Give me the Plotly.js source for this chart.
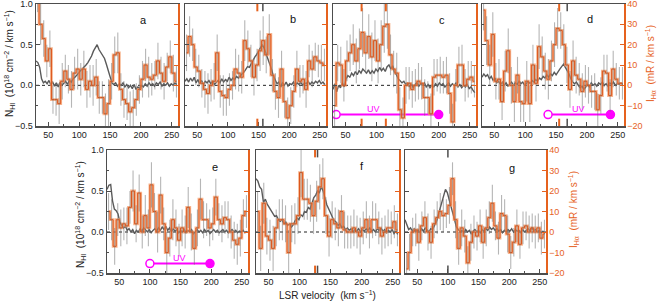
<!DOCTYPE html>
<html><head><meta charset="utf-8">
<script src="https://cdn.plot.ly/plotly-3.0.1.min.js"></script>
<style>html,body{margin:0;padding:0;background:#fff}#chart{width:660px;height:307px}</style>
</head><body><div id="chart"></div>
<script>
const panelLabels = ['a','b','c','d','e','f','g'];

const velHI = [30,33,36,39,42,45,48,51,54,57,60,63,66,69,72,75,78,81,84,87,90,93,96,99,102,105,108,111,114,117,120,123,126,129,132,135,138,141,144,147,150,153,156,159,162,165,168,171,174,177,180,183,186,189,192,195,198,201,204,207,210,213,216,219,222,225,228,231,234,237,240,243,246,249,252,255,258];
const velHa = [32.5,37.5,42.5,47.5,52.5,57.5,62.5,67.5,72.5,77.5,82.5,87.5,92.5,97.5,102.5,107.5,112.5,117.5,122.5,127.5,132.5,137.5,142.5,147.5,152.5,157.5,162.5,167.5,172.5,177.5,182.5,187.5,192.5,197.5,202.5,207.5,212.5,217.5,222.5,227.5,232.5,237.5,242.5,247.5,252.5,257.5];

const hiA = [0.30,0.28,0.22,0.08,0.03,0.05,0.02,0.06,0.01,0.04,-0.01,0.03,-0.02,0.04,0.00,0.03,0.05,0.01,0.06,0.04,0.08,0.10,0.12,0.15,0.18,0.20,0.22,0.25,0.28,0.32,0.36,0.42,0.46,0.50,0.44,0.40,0.36,0.33,0.26,0.18,0.08,0.03,0.01,0.03,-0.01,0.02,0.00,0.03,-0.02,0.01,-0.03,0.00,-0.04,0.01,-0.05,-0.02,-0.04,0.00,-0.02,0.02,-0.01,0.03,0.00,0.02,-0.01,0.03,0.01,0.04,-0.01,0.02,0.00,0.03,-0.01,0.02,0.00,0.03,0.01];
const hiB = [0.05,0.08,0.04,0.09,0.05,0.10,0.03,0.07,0.02,0.06,0.01,0.05,0.03,0.06,0.02,0.05,0.01,0.04,0.06,0.03,0.08,0.04,0.07,0.05,0.10,0.06,0.09,0.07,0.11,0.09,0.12,0.14,0.16,0.20,0.23,0.22,0.27,0.31,0.35,0.38,0.42,0.47,0.50,0.46,0.40,0.33,0.27,0.20,0.12,0.06,0.02,0.04,-0.02,0.03,0.00,0.04,-0.01,0.02,0.01,0.04,0.00,0.03,0.01,0.04,0.00,0.03,0.02,0.05,0.01,0.04,0.02,0.05,0.03,0.06,0.02,0.04,0.01];
const hiC = [-0.05,0.02,-0.08,0.00,-0.03,0.03,-0.02,0.08,0.12,0.10,0.15,0.12,0.17,0.13,0.18,0.15,0.20,0.18,0.15,0.19,0.14,0.18,0.15,0.20,0.17,0.22,0.18,0.21,0.17,0.23,0.25,0.20,0.24,0.16,0.13,0.08,0.06,0.03,0.05,0.01,0.03,-0.02,0.02,-0.03,0.01,0.03,-0.01,0.02,0.00,0.03,-0.02,0.01,-0.03,0.00,-0.02,0.02,-0.01,0.03,0.00,0.02,-0.02,0.01,0.03,-0.01,0.02,0.00,0.03,-0.02,0.01,-0.03,0.00,-0.02,0.01,-0.04,-0.02,-0.06,-0.09];
const hiD = [0.10,0.14,0.11,0.13,0.08,0.11,0.06,0.09,0.03,0.05,0.01,0.04,0.00,0.03,-0.01,0.02,0.04,0.00,0.03,0.01,0.05,0.02,0.04,0.00,0.03,0.05,0.02,0.06,0.04,0.07,0.05,0.09,0.07,0.11,0.09,0.13,0.10,0.14,0.12,0.16,0.13,0.17,0.20,0.23,0.26,0.22,0.18,0.14,0.08,0.04,0.02,0.04,0.00,-0.03,-0.01,-0.05,-0.02,0.01,-0.02,0.03,0.00,0.02,-0.01,0.03,0.01,0.04,0.00,0.02,-0.01,0.03,0.01,0.04,0.00,0.02,0.01,0.03,0.01];
const hiE = [0.52,0.57,0.58,0.38,0.28,0.26,0.22,0.12,0.08,0.05,0.07,0.02,0.04,0.00,0.03,-0.02,0.02,0.00,0.04,0.01,0.05,0.02,0.00,0.03,-0.01,0.02,0.04,0.01,0.05,0.02,0.06,0.03,0.07,0.02,0.05,0.00,0.04,0.01,0.03,-0.01,0.02,0.00,0.03,-0.01,0.02,0.00,0.03,-0.02,0.01,0.03,0.00,0.02,-0.01,0.03,0.00,0.02,-0.02,0.01,0.03,0.00,0.02,-0.01,0.01,0.03,0.00,0.02,-0.01,0.01,0.03,0.00,0.02,-0.01,0.01,0.00,0.02,-0.01,0.01];
const hiF = [0.65,0.62,0.55,0.52,0.36,0.40,0.34,0.30,0.26,0.22,0.19,0.20,0.15,0.13,0.15,0.10,0.12,0.08,0.10,0.06,0.09,0.14,0.17,0.15,0.21,0.19,0.25,0.24,0.30,0.28,0.35,0.42,0.45,0.50,0.48,0.55,0.50,0.40,0.33,0.28,0.22,0.18,0.14,0.12,0.08,0.10,0.05,0.07,0.03,0.05,0.02,0.04,0.00,0.03,0.01,0.04,0.00,0.03,0.01,0.04,0.02,0.05,0.01,0.03,0.00,0.04,0.02,0.05,0.01,0.03,-0.01,0.02,0.00,0.03,-0.02,0.01,-0.03];
const hiG = [0.15,0.08,0.03,0.05,0.01,0.04,0.00,0.03,-0.01,0.04,0.01,0.05,0.02,0.00,0.04,0.03,0.08,0.12,0.20,0.28,0.38,0.45,0.52,0.48,0.40,0.32,0.25,0.15,0.06,0.03,0.00,0.02,-0.01,0.03,0.00,0.02,-0.02,0.01,0.03,0.00,0.02,-0.01,0.03,0.01,0.04,0.02,0.06,0.03,0.05,0.02,0.04,0.01,0.03,-0.01,0.02,0.00,0.03,0.01,0.04,0.00,0.03,0.01,0.02,-0.01,0.03,0.00,0.02,0.04,0.01,0.05,0.02,0.03,0.00,0.02,-0.01,0.01,-0.02];

const haA = [48,30,23,12,18,-7,-7,-9,2,7,3,-2,6,8,3,8,-2,2,0,4,-6,-6,-14,-9,2,15,16,-2,-7,-9,-13,-11,-7,-2,3,10,4,3,5,12,6,2,9,14,6,2];
const haB = [16,24,20,9,7,1,-2,-4,0,2,16,-3,-5,-6,-2,0,8,6,4,22,18,12,4,10,17,22,15,25,5,-3,-6,8,-8,-16,-10,-3,8,2,3,-2,12,8,14,12,11,10];
const haC = [-10,11,10,0,12,16,20,12,18,26,16,24,14,22,12,20,29,30,15,8,6,-12,-16,0,1,-2,0,2,1,-6,-6,-14,4,5,5,4,5,-4,-18,0,10,10,0,3,4,2];
const haD = [37,22,10,25,2,3,-8,7,17,0,-8,5,-8,-9,2,-9,10,1,19,14,7,3,12,20,28,27,20,10,-2,12,5,3,-3,2,0,-3,-3,-12,-5,7,6,-5,8,3,1,1];
const haE = [10,6,-7,6,2,4,3,12,20,4,19,0,8,2,23,10,0,18,4,-10,-3,6,2,-4,2,0,12,0,-8,2,16,6,6,2,4,17,6,4,7,6,0,-4,-6,-3,8,10];
const haF = [10,-8,14,-2,-4,-8,2,6,6,4,-10,4,4,8,29,16,16,14,8,15,22,26,8,-2,6,4,2,10,1,0,0,2,0,-2,2,6,0,6,6,2,-2,0,2,2,5,1];
const haG = [-18,-10,0,1,-5,3,7,0,-5,4,7,10,8,9,13,26,6,-8,2,-2,-15,-5,0,-2,3,-5,2,7,14,3,-3,9,8,-1,-10,-5,3,-6,2,3,0,2,0,2,-3,-1];

const errA = [12,10,9,8,9,7,8,10,9,8,7,9,8,10,8,9,9,8,10,9,8,8,10,12,9,9,10,8,9,8,10,9,8,7,9,8,10,8,7,9,8,9,7,8,9,8];
const errB = [9,10,8,9,8,7,9,10,8,9,9,8,10,9,8,7,10,9,8,10,9,8,9,8,10,12,9,10,8,9,10,9,8,10,9,8,9,8,7,9,8,9,7,8,9,8];
const errC = [10,9,9,8,10,9,10,11,10,12,10,11,12,10,11,12,13,12,10,9,10,11,10,9,8,9,8,9,8,9,8,10,9,8,9,8,9,10,9,8,9,10,8,9,8,8];
const errD = [10,12,10,11,9,10,9,10,11,9,10,9,10,9,10,9,10,9,11,10,9,10,10,11,10,9,10,9,9,10,9,8,9,8,9,8,9,8,9,8,9,8,9,8,8,8];
const errE = [9,10,9,8,9,8,9,8,10,9,9,8,10,9,11,9,10,9,8,10,9,10,9,8,9,8,10,9,8,9,10,9,8,9,8,9,8,9,8,9,8,9,10,9,8,8];
const errF = [10,11,10,9,10,11,9,10,10,9,11,9,10,9,12,10,10,9,9,10,11,10,9,10,9,8,9,8,9,8,8,9,8,9,8,9,8,9,8,8,9,8,9,8,8,8];
const errG = [8,9,7,8,9,7,8,9,8,7,8,9,8,7,9,8,9,8,9,8,8,9,8,7,8,8,9,8,9,7,8,9,8,9,8,7,8,7,8,7,8,7,8,7,8,7];

// velocity markers (km/s)
const orangeMarks = [[], [148], [76,115], [155], [], [125], []];
const grayMarks = [[], [157], [], [168], [], [129], [100]];

// UV ranges (km/s) and level (left-axis units)
const uvPanel = [2, 3, 4];
const uvStart = [35, 137, 100];
const uvEnd = [200, 238, 198];
const uvLevel = [-0.36, -0.36, -0.385];
const uvLabelVel = [95, 187, 149];

const hiSeries = [hiA,hiB,hiC,hiD,hiE,hiF,hiG];
const haSeries = [haA,haB,haC,haD,haE,haF,haG];
const errSeries = [errA,errB,errC,errD,errE,errF,errG];

const ORANGE = '#E6621E';
const GRAY = '#4d4d4d';
const MAG = '#FF00FF';
const FONT = 'Liberation Sans, Arial, Helvetica, sans-serif';
const W = 660, H = 307;
// panel frames in pixels: [left, right, top, bottom]
const frames = [[36,178,4,126],[185,326,4,126],[333,476,4,126],[482,624,4,126],[107,248,150,273],[256,399,150,273],[405,546,150,273]];
const letterPos = [[143,20],[293,19],[442,20],[590,19],[215,167],[362,166],[512,168]];

const traces = [];
const layout = {
  width: W, height: H, margin: {l:0,r:0,t:0,b:0}, autosize: false,
  paper_bgcolor: '#fff', plot_bgcolor: 'rgba(0,0,0,0)', showlegend: false,
  font: {family: FONT, size: 9, color: '#222'},
  shapes: [], annotations: []
};

for (let i = 0; i < 7; i++) {
  const f = frames[i];
  const xa = 'x' + (i+1), yl = 'y' + (2*i+1), yr = 'y' + (2*i+2);
  const xk = 'xaxis' + (i+1), ylk = 'yaxis' + (2*i+1), yrk = 'yaxis' + (2*i+2);
  layout[xk] = {
    domain: [f[0]/W, f[1]/W], anchor: yl, range: [30, 260],
    showline: true, linecolor: GRAY, linewidth: 1.5, mirror: true,
    ticks: 'inside', ticklen: 4, tickcolor: GRAY, tickwidth: 1,
    tick0: 0, dtick: 50, minor: {dtick: 25, ticks: 'inside', ticklen: 2, tickcolor: GRAY},
    showgrid: false, zeroline: false, tickfont: {size: 9, color: '#222'}, ticklabeloverflow: 'allow'
  };
  layout[ylk] = {
    domain: [1 - f[3]/H, 1 - f[2]/H], anchor: xa, range: [-0.5, 1.0],
    showline: true, linecolor: GRAY, linewidth: 1.5,
    ticks: 'inside', ticklen: 4, tickcolor: GRAY, dtick: 0.5, tick0: 0,
    minor: {dtick: 0.25, ticks: 'inside', ticklen: 2, tickcolor: GRAY},
    tickformat: '.1f', showticklabels: (i === 0 || i === 4),
    showgrid: false, zeroline: false, tickfont: {size: 9, color: '#222'}, ticklabeloverflow: 'allow'
  };
  layout[yrk] = {
    overlaying: yl, side: 'right', anchor: xa, range: [-20, 40],
    showline: true, linecolor: ORANGE, linewidth: 1.5,
    ticks: 'inside', ticklen: 4, tickcolor: ORANGE, dtick: 10, tick0: 0,
    showticklabels: (i === 3 || i === 6),
    showgrid: false, zeroline: false, tickfont: {size: 9, color: ORANGE}, ticklabeloverflow: 'allow'
  };

  // zero dotted line
  layout.shapes.push({type: 'line', xref: xa + ' domain', yref: yl, x0: 0, x1: 1, y0: 0, y1: 0,
    line: {color: '#222', width: 1, dash: 'dot'}, layer: 'below'});

  // HI spectrum
  traces.push({x: velHI, y: hiSeries[i], xaxis: xa, yaxis: yl, type: 'scatter', mode: 'lines',
    line: {color: '#5a5a5a', width: 1.4}, hoverinfo: 'skip'});
  // H-alpha histogram (halo + core)
  traces.push({x: velHa, y: haSeries[i], xaxis: xa, yaxis: yr, type: 'scatter', mode: 'lines',
    line: {color: 'rgba(244,150,95,0.7)', width: 2.8, shape: 'hvh'}, hoverinfo: 'skip'});
  traces.push({x: velHa, y: haSeries[i], xaxis: xa, yaxis: yr, type: 'scatter', mode: 'lines',
    line: {color: '#DC561C', width: 1.0, shape: 'hvh'}, hoverinfo: 'skip'});
  // error bars
  traces.push({x: velHa, y: haSeries[i], xaxis: xa, yaxis: yr, type: 'scatter', mode: 'markers',
    marker: {size: 1, color: 'rgba(0,0,0,0)'},
    error_y: {type: 'data', array: errSeries[i], visible: true, color: 'rgba(110,110,110,0.5)', thickness: 1.1, width: 0},
    hoverinfo: 'skip'});

  // velocity markers
  orangeMarks[i].forEach(v => {
    [[0,0.06],[0.94,1]].forEach(r => layout.shapes.push({type:'line', xref: xa, yref: yl + ' domain',
      x0: v, x1: v, y0: r[0], y1: r[1], line: {color: ORANGE, width: 2}}));
  });
  grayMarks[i].forEach(v => {
    [[0,0.06],[0.94,1]].forEach(r => layout.shapes.push({type:'line', xref: xa, yref: yl + ' domain',
      x0: v, x1: v, y0: r[0], y1: r[1], line: {color: GRAY, width: 1.5}}));
  });

  // panel letter
  layout.annotations.push({xref: 'paper', yref: 'paper', x: letterPos[i][0]/W, y: 1 - letterPos[i][1]/H,
    text: panelLabels[i], showarrow: false, xanchor: 'center', yanchor: 'middle',
    font: {family: FONT, size: 11, color: '#111'}});
}

// UV bars
uvPanel.forEach((p, k) => {
  const xa = 'x' + (p+1), yl = 'y' + (2*p+1);
  traces.push({x: [uvStart[k], uvEnd[k]], y: [uvLevel[k], uvLevel[k]], xaxis: xa, yaxis: yl,
    type: 'scatter', mode: 'lines+markers', line: {color: MAG, width: 2},
    marker: {size: 8, color: ['#ffffff', MAG], line: {color: MAG, width: 1.5}}, hoverinfo: 'skip'});
  layout.annotations.push({xref: xa, yref: yl, x: uvLabelVel[k], y: uvLevel[k], yshift: 6,
    text: 'UV', showarrow: false, xanchor: 'center', yanchor: 'middle',
    font: {family: FONT, size: 9, color: MAG}});
});

// axis titles as annotations
const nhi = 'N<sub>HI</sub>  (10<sup>18</sup> cm<sup>−2</sup> / km s<sup>−1</sup>)';
const iha = 'I<sub>Hα</sub>  (mR / km s<sup>−1</sup>)';
layout.annotations.push({xref:'paper', yref:'paper', x: 10/W, y: 1 - 64/H, text: nhi, textangle: -90,
  showarrow: false, xanchor: 'center', yanchor: 'middle', font: {family: FONT, size: 10, color: '#222'}});
layout.annotations.push({xref:'paper', yref:'paper', x: 80/W, y: 1 - 215/H, text: nhi, textangle: -90,
  showarrow: false, xanchor: 'center', yanchor: 'middle', font: {family: FONT, size: 10, color: '#222'}});
layout.annotations.push({xref:'paper', yref:'paper', x: 651/W, y: 1 - 64/H, text: iha, textangle: -90,
  showarrow: false, xanchor: 'center', yanchor: 'middle', font: {family: FONT, size: 10, color: ORANGE}});
layout.annotations.push({xref:'paper', yref:'paper', x: 573/W, y: 1 - 210/H, text: iha, textangle: -90,
  showarrow: false, xanchor: 'center', yanchor: 'middle', font: {family: FONT, size: 10, color: ORANGE}});
layout.annotations.push({xref:'paper', yref:'paper', x: 327/W, y: 1 - 295/H, text: 'LSR velocity  (km s<sup>−1</sup>)',
  showarrow: false, xanchor: 'center', yanchor: 'middle', font: {family: FONT, size: 10, color: '#222'}});

Plotly.newPlot('chart', traces, layout, {staticPlot: true, displayModeBar: false});
</script>
</body></html>
